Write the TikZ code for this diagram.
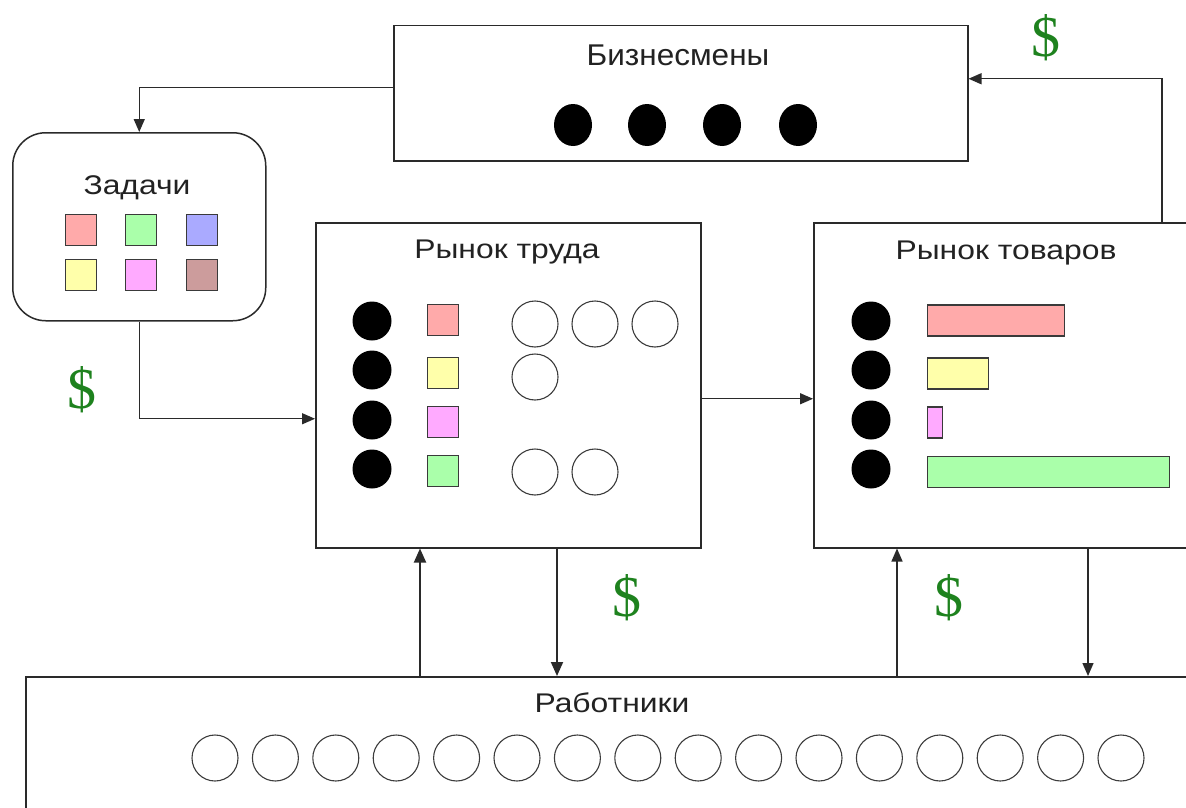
\documentclass[tikz,border=0pt]{standalone}
\usepackage{fontspec}
\setmainfont{Liberation Sans}
\newfontfamily\widefont[FakeStretch=1.18]{Liberation Sans}
\newfontfamily\bizfont[FakeStretch=1.05]{Liberation Sans}
\newfontfamily\dollarfont{Liberation Serif}
\usetikzlibrary{arrows.meta,shapes.geometric}
\definecolor{linec}{HTML}{2A2A2A}
\definecolor{textc}{HTML}{222222}
\definecolor{dgreen}{HTML}{1E821E}
\definecolor{sqc}{HTML}{3A3A3A}
\definecolor{circc}{HTML}{3C3C3C}
\definecolor{pinkc}{HTML}{FFAAAA}
\definecolor{greenc}{HTML}{AAFFAA}
\definecolor{bluec}{HTML}{AAAAFF}
\definecolor{yellowc}{HTML}{FFFFAA}
\definecolor{magc}{HTML}{FFAAFF}
\definecolor{brownc}{HTML}{CC9C9C}
\begin{document}
\begin{tikzpicture}[x=1pt,y=-1pt,
  box/.style={draw=linec, line width=1.5pt, fill=white, rectangle, inner sep=0pt, anchor=north west},
  title/.style={font=\widefont\fontsize{27}{30}\selectfont, text=textc, inner sep=0pt},
  biztitle/.style={font=\bizfont\fontsize{30}{32}\selectfont, text=textc, inner sep=0pt},
  dollar/.style={font=\dollarfont\fontsize{58}{60}\selectfont, text=dgreen, inner sep=0pt},
  bdot/.style={circle, fill=black, minimum size=39pt, inner sep=0pt},
  bell/.style={ellipse, fill=black, minimum width=38pt, minimum height=42pt, inner sep=0pt},
  ocirc/.style={circle, draw=circc, line width=1.1pt, fill=white, minimum size=46pt, inner sep=0pt},
  sq/.style={rectangle, draw=sqc, line width=1.2pt, minimum size=31pt, inner sep=0pt},
  bar/.style={rectangle, draw=sqc, line width=1.2pt, minimum height=31pt, inner sep=0pt, anchor=west},
  arr/.style={-{Triangle[length=13pt,width=11pt]}, line width=1.4pt, draw=linec},
  arrb/.style={-{Triangle[length=14pt,width=12pt]}, line width=1.9pt, draw=linec}
]
\useasboundingbox (0,0) rectangle (1186,808);
\clip (0,0) rectangle (1186,808);
\fill[white] (0,0) rectangle (1186,808);

% boxes
\node[box, minimum width=574pt, minimum height=135pt] (biz) at (393,25) {};
\node[box, rounded corners=33pt, minimum width=253pt, minimum height=188pt] (zad) at (12,132) {};
\node[box, minimum width=385pt, minimum height=325pt] (rt) at (315,222) {};
\node[box, minimum width=410pt, minimum height=325pt] (rv) at (813,222) {};
\node[box, minimum width=1200pt, minimum height=200pt] (work) at (25,676) {};

% titles
\node[biztitle] (tbiz) at (678,55) {Бизнесмены};
\node[title] (tzad) at (137,188) {Задачи};
\node[title] (trt) at (507,252) {Рынок труда};
\node[title] (trv) at (1006,253) {Рынок товаров};
\node[title] (twork) at (612,703) {Работники};

% dollars
\node[dollar] (d1) at (82,390) {\$};
\node[dollar] (d2) at (1046,38) {\$};
\node[dollar] (d3) at (627,598) {\$};
\node[dollar] (d4) at (949,598) {\$};

% businessmen dots
\foreach \x [count=\i] in {573,647,722,798}
  \node[bell] (b\i) at (\x,125) {};

% tasks squares
\node[sq, fill=pinkc] (z1) at (81,230) {};
\node[sq, fill=greenc] (z2) at (141,230) {};
\node[sq, fill=bluec] (z3) at (202,230) {};
\node[sq, fill=yellowc] (z4) at (81,275) {};
\node[sq, fill=magc] (z5) at (141,275) {};
\node[sq, fill=brownc] (z6) at (202,275) {};

% labour market
\foreach \y [count=\i] in {321,370,420,469}
  \node[bdot] (rd\i) at (372,\y) {};
\node[sq, fill=pinkc] (rs1) at (443,320) {};
\node[sq, fill=yellowc] (rs2) at (443,373) {};
\node[sq, fill=magc] (rs3) at (443,422) {};
\node[sq, fill=greenc] (rs4) at (443,471) {};
\node[ocirc] (ro1) at (535,324) {};
\node[ocirc] (ro2) at (595,324) {};
\node[ocirc] (ro3) at (655,324) {};
\node[ocirc] (ro4) at (535,377) {};
\node[ocirc] (ro5) at (535,472) {};
\node[ocirc] (ro6) at (595,472) {};

% goods market
\foreach \y [count=\i] in {321,370,420,469}
  \node[bdot] (vd\i) at (871,\y) {};
\node[bar, fill=pinkc, minimum width=137pt] (vb1) at (927,320.5) {};
\node[bar, fill=yellowc, minimum width=61pt] (vb2) at (927,373.5) {};
\node[bar, fill=magc, minimum width=15pt] (vb3) at (927,422.5) {};
\node[bar, fill=greenc, minimum width=242pt] (vb4) at (927,472) {};

% workers circles
\foreach \i in {0,...,15}
  \node[ocirc] (w\i) at ({215+60.4*\i},758) {};

% connectors
\draw[arr] ([yshift=5.5pt]biz.west) -| (zad.north);
\draw[arr] (zad.south) |- ([yshift=-33.5pt]rt.west);
\draw[arr] ([yshift=-13.5pt]rt.east) -- ([yshift=-13.5pt]rv.west);
\coordinate (rvtop) at ([xshift=349pt]rv.north west);
\draw[arr] (rvtop) |- ([yshift=14.5pt]biz.east);
\coordinate (rtA) at ([xshift=105pt]rt.south west);
\coordinate (rtB) at ([xshift=242pt]rt.south west);
\coordinate (rvA) at ([xshift=84pt]rv.south west);
\coordinate (rvB) at ([xshift=275pt]rv.south west);
\draw[arrb] (rtA |- work.north) -- (rtA);
\draw[arrb] (rtB) -- (rtB |- work.north);
\draw[arr] (rvA |- work.north) -- (rvA);
\draw[arr] (rvB) -- (rvB |- work.north);
\end{tikzpicture}
\end{document}
